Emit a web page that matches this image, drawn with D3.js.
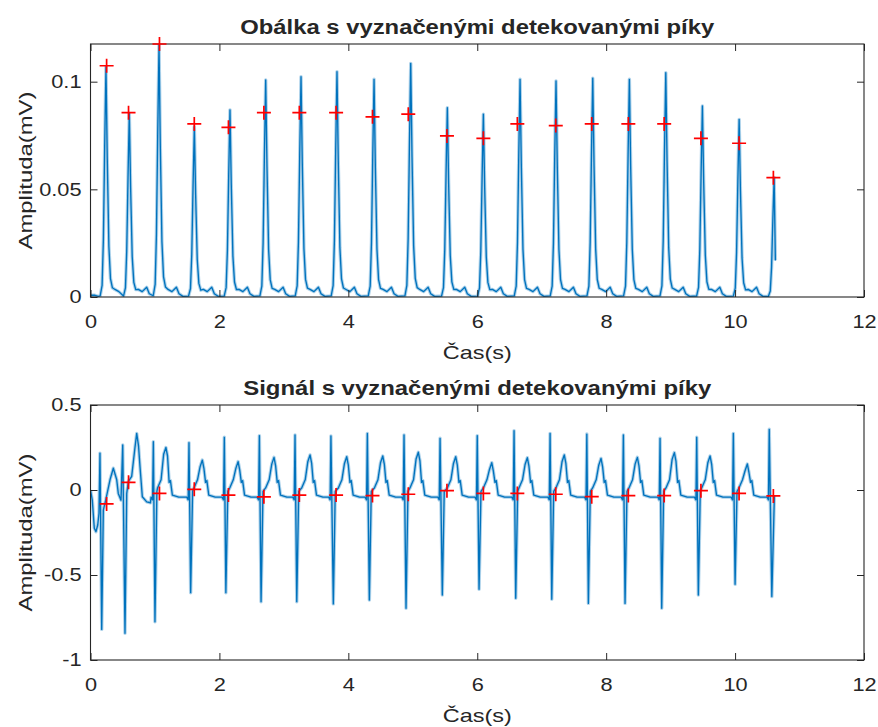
<!DOCTYPE html>
<html>
<head>
<meta charset="utf-8">
<script src="https://cdn.jsdelivr.net/npm/d3@7"></script>
<style>
body { margin: 0; background: #fff; }
svg text { font-family: "Liberation Sans", Arial, Helvetica, sans-serif; fill: #262626; }
</style>
</head>
<body>
<svg id="fig" width="878" height="727"></svg>
<script>
// ---- data ----
// detected peaks (red +), same times in both panels
const peakTimes = [0.25, 0.59, 1.07, 1.61, 2.14, 2.69, 3.24, 3.81, 4.375, 4.93, 5.53, 6.095, 6.622, 7.218, 7.776, 8.344, 8.90, 9.47, 10.062, 10.594];
const envPeakVals = [0.1074, 0.0856, 0.1175, 0.0804, 0.0788, 0.0856, 0.0856, 0.0856, 0.0837, 0.0849, 0.0748, 0.0737, 0.0804, 0.0796, 0.0804, 0.0804, 0.0804, 0.0737, 0.0714, 0.0554];
const sigPeakVals = [-0.082, 0.045, -0.02, 0.004, -0.03, -0.04, -0.03, -0.03, -0.033, -0.025, -0.004, -0.02, -0.02, -0.025, -0.039, -0.033, -0.033, -0.004, -0.02, -0.035];

// envelope: top of each spike
const envTopTimes = [0.240, 0.602, 1.063, 1.611, 2.164, 2.718, 3.266, 3.824, 4.399, 4.968, 5.536, 6.095, 6.664, 7.222, 7.792, 8.360, 8.925, 9.493, 10.063, 10.606];
const envTopVals = [0.107, 0.0853, 0.117, 0.0791, 0.0869, 0.1008, 0.1023, 0.1046, 0.1011, 0.1085, 0.0879, 0.0849, 0.1011, 0.1003, 0.1016, 0.1011, 0.1042, 0.0887, 0.0825, 0.0555];
// spike profile: offsets (s) and share of the spike height
const envSpikeOff = [-0.09, -0.06, -0.04, -0.02, 0, 0.02, 0.045, 0.07, 0.1];
const envSpikeFrac = [0.005, 0.05, 0.25, 0.65, 1, 0.6, 0.22, 0.08, 0.04];
// low tail between spikes: offsets (s) and levels (mV)
const envTailOff = [0.14, 0.2, 0.27, 0.31, 0.37];
const envTailVal = [0.0035, 0.0025, 0.0045, 0.0015, 0.0003];
const envStart = [[0, 0.0008], [0.07, 0.0008], [0.12, 0.0003]];
const envEnd = [10.625, 0.017];

// ECG signal: irregular first two beats
const leadInT = [0, 0.028, 0.059, 0.085, 0.112, 0.132, 0.147, 0.174, 0.199, 0.236, 0.303, 0.354, 0.407, 0.431, 0.473, 0.50, 0.535, 0.562, 0.587, 0.639, 0.69, 0.717, 0.745, 0.768, 0.804, 0.872, 0.93];
const leadInV = [0, -0.06, -0.225, -0.245, -0.206, -0.137, 0.216, -0.82, -0.118, -0.06, 0.06, 0.128, 0.06, -0.02, -0.06, 0.265, -0.843, -0.02, 0.05, 0.08, 0.25, 0.333, 0.26, 0.137, -0.04, -0.07, -0.075];
// beats 3..20: R peak, S trough, T wave
const rTimes = [0.975, 1.528, 2.076, 2.62, 3.173, 3.73, 4.295, 4.864, 5.423, 6.0, 6.571, 7.13, 7.70, 8.267, 8.836, 9.405, 9.973, 10.53];
const rAmps = [0.284, 0.278, 0.31, 0.32, 0.324, 0.318, 0.333, 0.324, 0.304, 0.32, 0.349, 0.333, 0.329, 0.324, 0.304, 0.31, 0.333, 0.357];
const sTimes = [1.0, 1.554, 2.10, 2.646, 3.2, 3.767, 4.326, 4.895, 5.458, 6.028, 6.597, 7.156, 7.724, 8.293, 8.862, 9.43, 10.0, 10.57];
const sAmps = [-0.775, -0.604, -0.604, -0.657, -0.657, -0.67, -0.647, -0.696, -0.618, -0.584, -0.637, -0.643, -0.667, -0.667, -0.696, -0.618, -0.555, -0.627];
const tTimes = [1.17, 1.735, 2.29, 2.847, 3.406, 3.975, 4.534, 5.086, 5.666, 6.225, 6.777, 7.35, 7.92, 8.484, 9.058, 9.612, 10.19];
const tAmps = [0.25, 0.176, 0.167, 0.192, 0.206, 0.196, 0.2, 0.222, 0.196, 0.161, 0.19, 0.206, 0.186, 0.192, 0.22, 0.2, 0.153];
const sigEnd = [10.61, -0.03];

const xTicks = [0, 2, 4, 6, 8, 10, 12];
const envYTicks = [0, 0.05, 0.1];
const sigYTicks = [-1, -0.5, 0, 0.5];

// ---- build polylines ----
function envelopePoints() {
    let pts = envStart.slice();
    envTopTimes.forEach((p, i) => {
        const last = i === envTopTimes.length - 1;
        const next = last ? Infinity : envTopTimes[i + 1] + envSpikeOff[0] - 0.01;
        envSpikeOff.forEach((o, j) => {
            if (last && o > 0) return;
            if (p + o < next) pts.push([p + o, envTopVals[i] * envSpikeFrac[j]]);
        });
        if (last) { pts.push(envEnd); return; }
        envTailOff.forEach((o, j) => {
            if (p + o < next) pts.push([p + o, envTailVal[j]]);
        });
    });
    return pts;
}

function signalPoints() {
    let pts = leadInT.map((t, i) => [t, leadInV[i]]);
    rTimes.forEach((r, i) => {
        pts.push([r - 0.035, -0.042], [r - 0.012, -0.058], [r, rAmps[i]], [sTimes[i], sAmps[i]]);
        if (i === rTimes.length - 1) { pts.push(sigEnd); return; }
        const s = sTimes[i], t = tTimes[i];
        pts.push([s + 0.03, -0.008], [t - 0.13, 0.012], [t - 0.075, 0.06], [t - 0.035, tAmps[i] - 0.04], [t, tAmps[i]],
                 [t + 0.025, tAmps[i] - 0.05], [t + 0.05, 0.045], [t + 0.07, 0.055], [t + 0.1, -0.03], [t + 0.2, -0.042]);
    });
    return pts;
}

// ---- drawing ----
const svg = d3.select("#fig");
svg.append("rect").attr("width", 878).attr("height", 727).attr("fill", "#fff");

const xLeft = 90.5, xRight = 864;
const textStretch = 1.17;
const fontSize = 18.6;

const panels = [
    {
        id: "env", top: 44, bottom: 297, domain: [0, 0.1175], yTicks: envYTicks,
        title: "Obálka s vyznačenými detekovanými píky", titleLen: 474, titleY: 34, xlabelY: 358.5,
        line: envelopePoints(), marks: peakTimes.map((t, i) => [t, envPeakVals[i]])
    },
    {
        id: "sig", top: 405, bottom: 660, domain: [-1, 0.5], yTicks: sigYTicks,
        title: "Signál s vyznačenými detekovanými píky", titleLen: 468, titleY: 395, xlabelY: 721.5,
        line: signalPoints(), marks: peakTimes.map((t, i) => [t, sigPeakVals[i]])
    }
];

panels.forEach(p => drawPanel(p));

function drawPanel(p) {
    const x = d3.scaleLinear().domain([0, 12]).range([xLeft, xRight]);
    const y = d3.scaleLinear().domain(p.domain).range([p.bottom, p.top]);
    const g = svg.append("g");

    g.append("clipPath").attr("id", "clip-" + p.id)
        .append("rect")
        .attr("x", xLeft).attr("y", p.top)
        .attr("width", xRight - xLeft).attr("height", p.bottom - p.top);

    const line = d3.line().x(d => x(d[0])).y(d => y(d[1]));
    g.append("path").datum(p.line)
        .attr("d", line).attr("fill", "none")
        .attr("stroke", "#0072BD").attr("stroke-opacity", 0.32)
        .attr("stroke-width", 3.4).attr("stroke-linejoin", "round")
        .attr("clip-path", `url(#clip-${p.id})`);
    g.append("path").datum(p.line)
        .attr("d", line).attr("fill", "none")
        .attr("stroke", "#0072BD").attr("stroke-width", 1.35)
        .attr("stroke-linejoin", "round")
        .attr("clip-path", `url(#clip-${p.id})`);

    // axes, MATLAB style: inward ticks on all sides
    const fmt = d => String(d);
    const styleAxis = a => a.attr("color", "#262626")
        .attr("font-size", fontSize)
        .attr("font-family", '"Liberation Sans", Arial, sans-serif')
        .call(s => s.select(".domain").remove());

    g.append("g").attr("transform", `translate(0,${p.bottom})`)
        .call(d3.axisBottom(x).tickValues(xTicks).tickSizeInner(-7).tickSizeOuter(0).tickPadding(17.5).tickFormat(fmt))
        .call(styleAxis)
        .call(a => a.selectAll(".tick text").attr("transform", `scale(${textStretch},1)`));
    g.append("g").attr("transform", `translate(0,${p.top})`)
        .call(d3.axisTop(x).tickValues(xTicks).tickSizeInner(-7).tickSizeOuter(0).tickFormat(""))
        .call(styleAxis);
    g.append("g").attr("transform", `translate(${xLeft},0)`)
        .call(d3.axisLeft(y).tickValues(p.yTicks).tickSizeInner(-7).tickSizeOuter(0).tickPadding(9).tickFormat(fmt))
        .call(styleAxis)
        .call(a => a.selectAll(".tick text")
            .attr("x", -9 / textStretch)
            .attr("transform", `scale(${textStretch},1)`));
    g.append("g").attr("transform", `translate(${xRight},0)`)
        .call(d3.axisRight(y).tickValues(p.yTicks).tickSizeInner(-7).tickSizeOuter(0).tickFormat(""))
        .call(styleAxis);

    g.append("rect")
        .attr("x", xLeft).attr("y", p.top)
        .attr("width", xRight - xLeft).attr("height", p.bottom - p.top)
        .attr("fill", "none").attr("stroke", "#262626").attr("stroke-width", 1.1);

    // detected peaks
    g.selectAll("path.mark").data(p.marks).enter()
        .append("path").attr("class", "mark")
        .attr("d", d => {
            const cx = x(d[0]), cy = y(d[1]), r = 7;
            return `M${cx - r},${cy}H${cx + r}M${cx},${cy - r}V${cy + r}`;
        })
        .attr("stroke", "#FF0000").attr("stroke-width", 1.7).attr("fill", "none");

    // texts
    const cx = (xLeft + xRight) / 2;
    g.append("text")
        .attr("x", cx).attr("y", p.titleY)
        .attr("text-anchor", "middle")
        .attr("font-weight", "bold").attr("font-size", 19.5)
        .attr("textLength", p.titleLen).attr("lengthAdjust", "spacingAndGlyphs")
        .text(p.title);
    g.append("text")
        .attr("x", cx).attr("y", p.xlabelY)
        .attr("text-anchor", "middle").attr("font-size", fontSize)
        .attr("textLength", 69).attr("lengthAdjust", "spacingAndGlyphs")
        .text("Čas(s)");
    g.append("text")
        .attr("transform", `translate(31.5,${(p.top + p.bottom) / 2}) rotate(-90)`)
        .attr("text-anchor", "middle").attr("font-size", fontSize)
        .attr("textLength", 158).attr("lengthAdjust", "spacingAndGlyphs")
        .text("Amplituda(mV)");
}
</script>
</body>
</html>
